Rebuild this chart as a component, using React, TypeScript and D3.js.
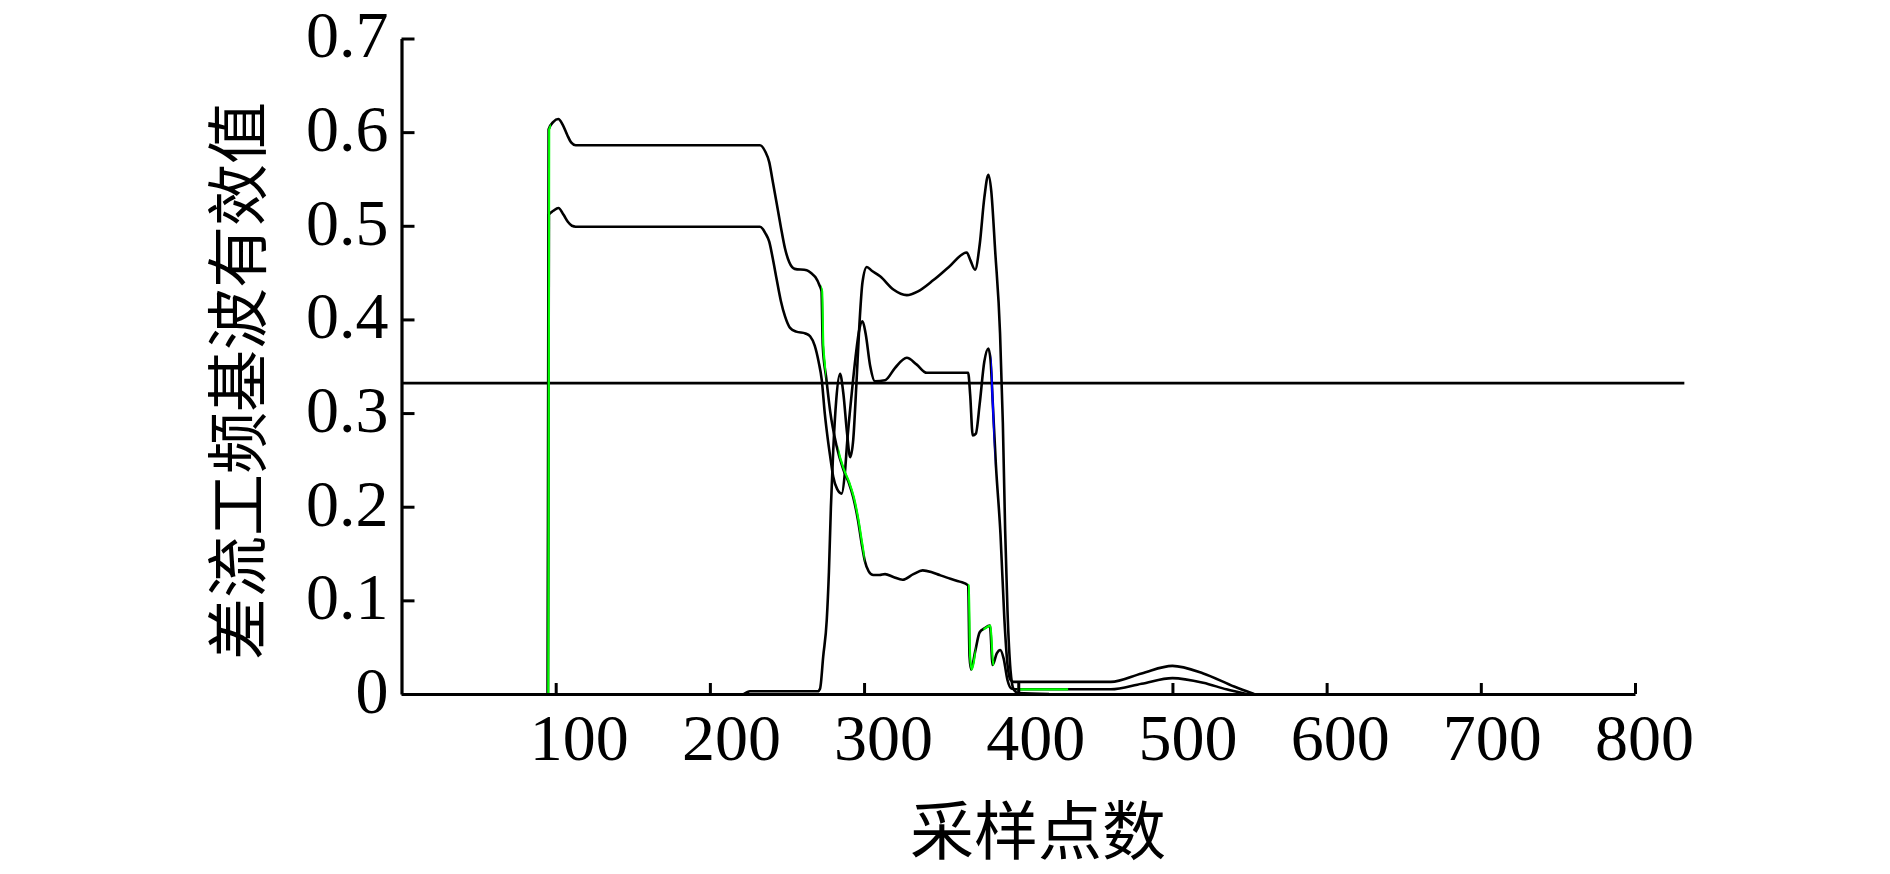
import { useEffect, useRef } from "react";
import * as d3 from "d3";

// Taille de la figure
const width = 1890;
const height = 874;

// Cadre du graphique
const margin = { top: 38.5, right: 255, bottom: 180, left: 401.5 };

// Titres des axes
const xTitle = "采样点数";
const yTitle = "差流工频基波有效值";

// Graduations
const xTicks = [100, 200, 300, 400, 500, 600, 700, 800];
const xTickLabels = ["100", "200", "300", "400", "500", "600", "700", "800"];
const yTicks = [0, 0.1, 0.2, 0.3, 0.4, 0.5, 0.6, 0.7];
const yTickLabels = ["0", "0.1", "0.2", "0.3", "0.4", "0.5", "0.6", "0.7"];

// Seuil horizontal
const threshold = 0.332;
const thresholdEnd = 832;

// Courbe haute (palier ~0.586)
const curveA: [number, number][] = [
  [94.8, 0], [95.4, 0.603], [98.5, 0.611], [101.7, 0.614], [104.5, 0.608], [107.5, 0.597],
  [110, 0.589], [113, 0.586], [150, 0.586], [200, 0.586], [232.5, 0.586], [236, 0.579],
  [238.5, 0.568], [240.5, 0.55], [243, 0.527], [246, 0.499], [248.7, 0.476], [251.5, 0.461],
  [255, 0.454], [262.8, 0.4525], [266, 0.449], [268.5, 0.445], [271.2, 0.436], [272.4, 0.43],
  [273.2, 0.372], [275.5, 0.337], [278, 0.302], [282, 0.266], [286.5, 0.24], [290, 0.226],
  [293, 0.21], [296, 0.186], [298.5, 0.16], [300.5, 0.142], [303, 0.131], [306, 0.127],
  [310, 0.127], [313.6, 0.128], [319, 0.125], [325, 0.122], [332, 0.128], [338, 0.132],
  [344, 0.13], [349, 0.127], [356, 0.123], [362, 0.12], [367.5, 0.116], [368.4, 0.04],
  [369.4, 0.026], [372, 0.045], [375, 0.066], [378, 0.07], [381.6, 0.073], [383.4, 0.031],
  [386, 0.043], [388.3, 0.047], [390.5, 0.038], [393, 0.015], [395.5, 0.006], [400, 0.005],
  [460, 0.005], [480, 0.011], [500, 0.017], [520, 0.012], [535, 0.005], [548, 0],
];

// Courbe basse (palier ~0.499)
const curveB: [number, number][] = [
  [95, 0], [95.6, 0.512], [98.5, 0.516], [101.8, 0.519], [105, 0.512], [108, 0.504],
  [110.5, 0.5], [113, 0.499], [232.5, 0.499], [236, 0.492], [238.5, 0.483], [240.8, 0.465],
  [243.4, 0.442], [246, 0.42], [248.8, 0.403], [252, 0.391], [256, 0.387], [262, 0.385],
  [265, 0.382], [268, 0.372], [270.5, 0.355], [272.6, 0.335], [274.5, 0.3], [276.5, 0.272],
  [278, 0.254], [280, 0.232], [282.5, 0.219], [285.5, 0.214], [287.5, 0.235], [289, 0.268],
  [292, 0.321], [294.5, 0.36], [297, 0.39], [299, 0.398], [301, 0.385], [304, 0.35],
  [307, 0.334], [313.6, 0.335], [320, 0.348], [327.7, 0.359], [334, 0.352], [340.7, 0.343],
  [350, 0.343], [360, 0.343], [367.5, 0.343], [368.8, 0.32], [370.5, 0.276], [372.5, 0.278],
  [375, 0.31], [378, 0.355], [380.6, 0.369], [382, 0.357], [383.5, 0.31], [385.5, 0.245],
  [388.5, 0.17], [391, 0.08], [393, 0.032], [395, 0.015], [397, 0.013], [460, 0.013],
  [480, 0.022], [500, 0.03], [520, 0.022], [540, 0.008], [553, 0],
];

// Courbe qui part de zéro vers 220
const curveC: [number, number][] = [
  [222, 0], [226, 0.003], [270, 0.003], [271.5, 0.006], [273.5, 0.04], [275.8, 0.079],
  [277.2, 0.13], [278.5, 0.2], [280, 0.26], [282, 0.315], [284.4, 0.342], [286.5, 0.322],
  [289, 0.278], [291, 0.253], [293, 0.272], [295, 0.33], [297, 0.395], [299, 0.44],
  [301.8, 0.456], [305, 0.452], [310.4, 0.446], [319, 0.432], [327.7, 0.426], [335, 0.43],
  [345, 0.442], [355, 0.456], [366.6, 0.4715], [369, 0.463], [372, 0.453], [375, 0.48],
  [378, 0.53], [380.6, 0.5545], [382.5, 0.537], [385, 0.474], [388.2, 0.385], [390, 0.29],
  [391.5, 0.175], [393, 0.09], [395, 0.025], [397, 0.005], [400, 0.001], [420, 0],
];

// Portions où les courbes colorées dessous restent visibles
const greenRanges: [number, number][] = [[94, 96.5], [271.8, 275], [283, 300], [367, 372], [377, 384], [399, 432]];
const blueRanges: [number, number][] = [[382.3, 384.6]];

const drawChart = (el: SVGSVGElement) => {
  const svg = d3.select(el);
  svg.selectAll("*").remove();

  const x = d3.scaleLinear().domain([0, 800]).range([margin.left, width - margin.right]);
  const y = d3.scaleLinear().domain([0, 0.7]).range([height - margin.bottom, margin.top]);

  // les étiquettes de l'original sont légèrement décalées de leurs graduations
  const xLabel = d3.scaleLinear().domain([100, 800]).range([x(100) + 23, x(800) + 9]);

  const line = d3.line<[number, number]>()
    .x(d => x(d[0]))
    .y(d => y(d[1]))
    .curve(d3.curveMonotoneX);

  const defs = svg.append("defs");
  const addClip = (id: string, ranges: [number, number][]) => {
    defs.append("clipPath").attr("id", id)
      .selectAll("rect")
      .data(ranges)
      .join("rect")
      .attr("x", d => x(d[0]))
      .attr("width", d => x(d[1]) - x(d[0]))
      .attr("y", 0)
      .attr("height", height);
  };
  addClip("green-clip", greenRanges);
  addClip("blue-clip", blueRanges);

  // Seuil
  svg.append("line")
    .attr("x1", x(0))
    .attr("x2", x(thresholdEnd))
    .attr("y1", y(threshold))
    .attr("y2", y(threshold))
    .attr("stroke", "#000")
    .attr("stroke-width", 2.8);

  // Courbes noires
  svg.append("g")
    .selectAll("path")
    .data([curveC, curveB, curveA])
    .join("path")
    .attr("d", d => line(d))
    .attr("fill", "none")
    .attr("stroke", "#000")
    .attr("stroke-width", 2.6)
    .attr("stroke-linejoin", "round");

  // Courbes colorées visibles par endroits
  svg.append("path")
    .datum(curveA)
    .attr("d", line)
    .attr("clip-path", "url(#green-clip)")
    .attr("transform", "translate(0.6,0)")
    .attr("fill", "none")
    .attr("stroke", "#00ff00")
    .attr("stroke-width", 2.2);

  svg.append("path")
    .datum(curveB)
    .attr("d", line)
    .attr("clip-path", "url(#blue-clip)")
    .attr("fill", "none")
    .attr("stroke", "#0000ff")
    .attr("stroke-width", 2.2);

  const numFont = "'Liberation Serif', 'Times New Roman', serif";

  // Axe X
  const gx = svg.append("g")
    .attr("transform", `translate(0,${height - margin.bottom})`)
    .call(d3.axisBottom(x)
      .tickValues(xTicks)
      .tickFormat((d, i) => xTickLabels[i])
      .tickSizeInner(-11)
      .tickSizeOuter(0)
      .tickPadding(19));
  gx.attr("font-family", numFont).attr("font-size", 66);
  gx.select(".domain").attr("stroke-width", 3.2);
  gx.selectAll(".tick line").attr("stroke-width", 3);
  gx.selectAll<SVGTextElement, number>(".tick text")
    .attr("fill", "#000")
    .attr("x", d => xLabel(d) - x(d));

  // Axe Y
  const gy = svg.append("g")
    .attr("transform", `translate(${margin.left},0)`)
    .call(d3.axisLeft(y)
      .tickValues(yTicks)
      .tickFormat((d, i) => yTickLabels[i])
      .tickSizeInner(-13)
      .tickSizeOuter(0)
      .tickPadding(13));
  gy.attr("font-family", numFont).attr("font-size", 66);
  gy.select(".domain").attr("stroke-width", 3.2);
  gy.selectAll(".tick line").attr("stroke-width", 3);
  gy.selectAll(".tick text").attr("fill", "#000").attr("dy", "0.28em");

  // Titres
  const cjkFont = "'Noto Sans CJK SC', sans-serif";
  svg.append("text")
    .attr("x", 1038)
    .attr("y", 826)
    .attr("text-anchor", "middle")
    .attr("dominant-baseline", "central")
    .attr("font-family", cjkFont)
    .attr("font-size", 64)
    .text(xTitle);

  svg.append("text")
    .attr("transform", "translate(234,381) rotate(-90)")
    .attr("text-anchor", "middle")
    .attr("dominant-baseline", "central")
    .attr("font-family", cjkFont)
    .attr("font-size", 62)
    .text(yTitle);
};

export default function App() {
  const ref = useRef<SVGSVGElement>(null);

  useEffect(() => {
    document.body.style.margin = "0";
    if (ref.current) drawChart(ref.current);
  }, []);

  return (
    <svg
      ref={ref}
      width={width}
      height={height}
      style={{ display: "block", background: "#fff" }}
    />
  );
}
